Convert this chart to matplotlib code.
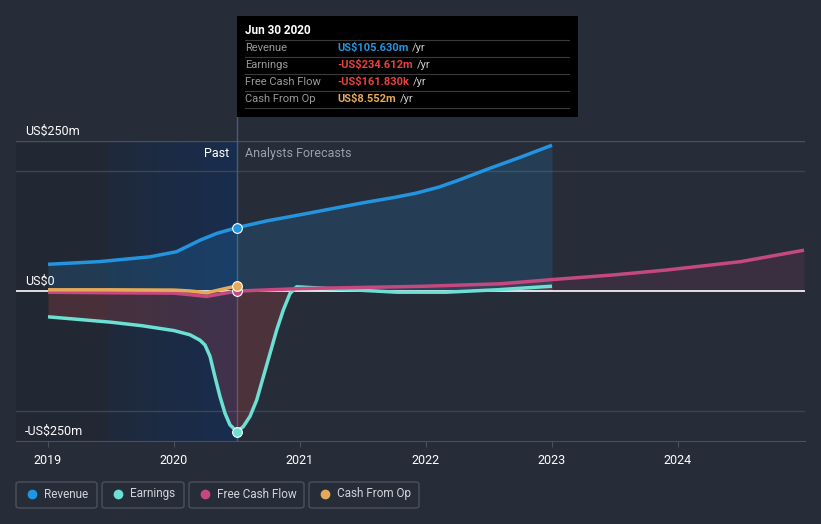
import numpy as np
import matplotlib.pyplot as plt
from matplotlib.patches import FancyBboxPatch, Rectangle

plt.rcParams['font.family'] = ['Roboto', 'DejaVu Sans']

# data (US$m, by year)
rev_x = [2019.0, 2019.41, 2019.81, 2020.02, 2020.21, 2020.34, 2020.5, 2020.74, 2021.0,
         2021.25, 2021.5, 2021.75, 2021.92, 2022.1, 2022.25, 2022.5, 2022.75, 2023.0]
rev_y = [44.5, 49, 57, 65.5, 85, 96, 105.63, 117, 127,
         137, 147, 156, 163, 173, 184, 204, 223, 243]

earn_x = [2019.0, 2019.5, 2019.75, 2020.0, 2020.127, 2020.206, 2020.246, 2020.286, 2020.325, 2020.365,
          2020.405, 2020.444, 2020.5, 2020.55, 2020.603, 2020.656, 2020.709, 2020.762, 2020.815,
          2020.867, 2020.921, 2020.974, 2021.32, 2021.77, 2022.16, 2022.56, 2023.0]
earn_y = [-43, -52, -58, -66, -73, -82, -90, -109, -143, -176,
          -204, -223, -234.612, -226, -209, -182, -143, -104, -65,
          -32, -4, 7, 3, -2, -2, 2, 8]

fcf_x = [2019.0, 2019.5, 2020.0, 2020.26, 2020.5, 2021.0, 2021.77, 2022.0, 2022.59, 2023.0, 2023.5, 2023.91, 2024.5, 2025.0]
fcf_y = [-2, -3, -3.5, -9, -0.16, 4, 7, 8, 12, 19, 27, 35, 49, 68]

cfo_x = [2019.0, 2019.5, 2020.0, 2020.13, 2020.26, 2020.5]
cfo_y = [2, 2, 1.5, 0, -3, 8.552]

years = [2019, 2020, 2021, 2022, 2023, 2024]

bg = '#262c38'
c_rev = '#2394df'
c_earn = '#6ce0d3'
c_fcf = '#c5487f'
c_cfo = '#e6a957'

fig = plt.figure(figsize=(8.21, 5.24), dpi=100)
fig.patch.set_facecolor(bg)
ax = fig.add_axes([16/821, 83/524, 789/821, 300/524])
ax.set_facecolor(bg)
x0, x1 = 2019 - 32/126, 2019 + 757/126
ax.set_xlim(x0, x1)
ax.set_ylim(-250, 250)

# past shading
ax.axvspan(x0, 2020.5, color='#1c222c', alpha=0.35, lw=0, zorder=0)
grad = np.zeros((1, 100, 4))
grad[..., 0] = 0.05
grad[..., 1] = 0.2
grad[..., 2] = 0.45
grad[..., 3] = np.linspace(0.12, 0.45, 100)
ax.imshow(grad, extent=[2019 + 60/126, 2020.5, -250, 250], aspect='auto', zorder=0.5)

for yv in [200, -200]:
    ax.axhline(yv, color='#3e4552', lw=1, zorder=1)
ax.axhline(250, color='#4a505c', lw=1, zorder=1)
ax.axhline(0, color='white', lw=1.2, zorder=4)
ax.axvline(2020.5, color='#4a5a78', lw=1, zorder=1)

# fills
ax.fill_between(rev_x, rev_y, 0, color=c_rev, alpha=0.18, lw=0, zorder=2)
ax.fill_between(earn_x, earn_y, 0, color='#d04a4a', alpha=0.22, lw=0, zorder=2)
ax.fill_between(fcf_x, fcf_y, 0, color=c_fcf, alpha=0.12, lw=0, zorder=2)

for xs, ys, c in [(rev_x, rev_y, c_rev), (earn_x, earn_y, c_earn),
                  (fcf_x, fcf_y, c_fcf), (cfo_x, cfo_y, c_cfo)]:
    ax.plot(xs, ys, color=c, lw=2.5, zorder=5, solid_capstyle='butt', solid_joinstyle='round')
    i = xs.index(2020.5)
    ax.plot(xs[i], ys[i], 'o', ms=7, color=c, mec='white', mew=0.8, zorder=6)

for s in ax.spines.values():
    s.set_visible(False)
ax.spines['bottom'].set_visible(True)
ax.spines['bottom'].set_color('#4a505c')
ax.set_xticks(years)
ax.set_xticklabels([str(y) for y in years])
ax.tick_params(axis='x', colors='#4a505c', labelcolor='white', labelsize=9, length=4, pad=5)
ax.set_yticks([])

ax.text(2019 - 23/126, 256, 'US$250m', color='white', fontsize=9, va='bottom')
ax.text(2019 - 23/126, 6, 'US$0', color='white', fontsize=9, va='bottom')
ax.text(2019 - 23/126, -244, '-US$250m', color='white', fontsize=9, va='bottom')
ax.text(2020.5 - 8/126, 229, 'Past', color='white', fontsize=9, ha='right', va='center')
ax.text(2020.5 + 8/126, 229, 'Analysts Forecasts', color='#9aa0aa', fontsize=9, ha='left', va='center')

# tooltip
fig.patches.append(Rectangle((237/821, 1 - 117/524), 341/821, 101/524, transform=fig.transFigure,
                             facecolor='black', edgecolor='none', zorder=10))
fig.add_artist(plt.Line2D([237/821, 237/821], [1 - 117/524, 1 - 141/524], color='#4a5a78', lw=1))
fig.text(245/821, 1 - 31/524, 'Jun 30 2020', color='white', fontsize=8.5, fontweight='bold', va='center', zorder=11)
rows = [('Revenue', 'US$105.630m', '#2394df'),
        ('Earnings', '-US$234.612m', '#e8423f'),
        ('Free Cash Flow', '-US$161.830k', '#e8423f'),
        ('Cash From Op', 'US$8.552m', '#e6a957')]
renderer = fig.canvas.get_renderer()
for i, (lab, val, col) in enumerate(rows):
    yy = 48 + 17 * i
    fig.add_artist(plt.Line2D([245/821, 569/821], [1 - (yy - 8)/524] * 2, color='#3a3a3a', lw=0.8, zorder=11))
    fig.text(245/821, 1 - yy/524, lab, color='#9a9a9a', fontsize=8, va='center', zorder=11)
    t = fig.text(337/821, 1 - yy/524, val, color=col, fontsize=8, fontweight='bold', va='center', zorder=11)
    bb = t.get_window_extent(renderer)
    fig.text((bb.x1 + 4)/821, 1 - yy/524, '/yr', color='#cccccc', fontsize=8, va='center', zorder=11)
fig.add_artist(plt.Line2D([245/821, 569/821], [1 - 108/524] * 2, color='#3a3a3a', lw=0.8, zorder=11))

# legend boxes
legend = [('Revenue', c_rev, 16, 97), ('Earnings', c_earn, 102, 184),
          ('Free Cash Flow', c_fcf, 189, 304), ('Cash From Op', c_cfo, 309, 419)]
for lab, col, lx, rx in legend:
    fig.patches.append(FancyBboxPatch((lx/821, 1 - 508/524), (rx - lx)/821, 26/524,
                                      boxstyle='round,pad=0,rounding_size=0.004', transform=fig.transFigure,
                                      facecolor='none', edgecolor='#4a505c', lw=1))
    fig.add_artist(plt.Line2D([(lx + 16)/821], [1 - 494/524], marker='o', ms=6, color=col, mec=col))
    fig.text((lx + 28)/821, 1 - 494/524, lab, color='#d0d4da', fontsize=8.5, va='center')

fig.savefig('out.png', dpi=100, facecolor=bg)
